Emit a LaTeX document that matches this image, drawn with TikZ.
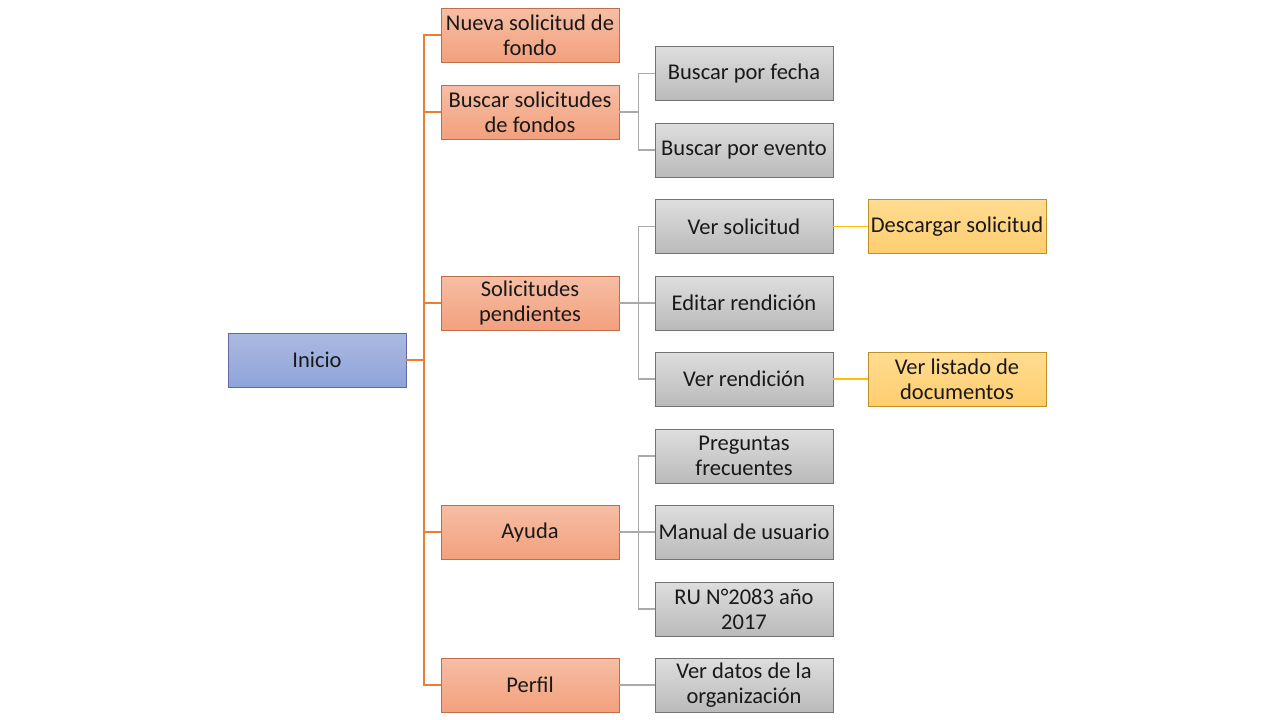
\documentclass[tikz,border=0pt]{standalone}
\usepackage{fontspec}
\setmainfont{Carlito}
\definecolor{oLine}{RGB}{237,125,49}
\definecolor{yLine}{RGB}{255,192,0}
\definecolor{gLine}{RGB}{170,170,170}
\begin{document}
\begin{tikzpicture}[x=1pt,y=-1pt,
  box/.style={minimum width=178pt,minimum height=54pt,inner sep=1pt,align=center,
    font=\fontsize{22.5}{25}\selectfont,line width=0.8pt,text=black!90},
  inibox/.style={box,draw=black!60!blue!60,top color={rgb,255:red,171;green,185;blue,225},bottom color={rgb,255:red,142;green,164;blue,218}},
  orabox/.style={box,draw={rgb,255:red,190;green,110;blue,75},top color={rgb,255:red,246;green,190;blue,165},bottom color={rgb,255:red,243;green,160;blue,125}},
  grybox/.style={box,draw=black!55,top color=black!13,bottom color=black!27},
  yelbox/.style={box,draw={rgb,255:red,190;green,145;blue,40},top color={rgb,255:red,255;green,220;blue,145},bottom color={rgb,255:red,255;green,205;blue,110}},
  oline/.style={draw=oLine,line width=1.1pt},
  gline/.style={draw=gLine,line width=1.1pt},
  yline/.style={draw=yLine,line width=1.1pt}]
\useasboundingbox (0,0) rectangle (1280,720);
\fill[white] (0,0) rectangle (1280,720);
% nodes
\node[inibox] (ini) at (317,360) {Inicio};
\node[orabox] (nueva) at (530,35) {Nueva solicitud de\\fondo};
\node[orabox] (buscar) at (530,112) {Buscar solicitudes\\de fondos};
\node[orabox] (pend) at (530,303) {Solicitudes\\pendientes};
\node[orabox] (ayuda) at (530,532) {Ayuda};
\node[orabox] (perfil) at (530,685) {Perfil};
\node[grybox] (fecha) at (744,73.5) {Buscar por fecha};
\node[grybox] (evento) at (744,150) {Buscar por evento};
\node[grybox] (versol) at (744,226.5) {Ver solicitud};
\node[grybox] (editar) at (744,303) {Editar rendición};
\node[grybox] (verren) at (744,379) {Ver rendición};
\node[grybox] (preg) at (744,456) {Preguntas\\frecuentes};
\node[grybox] (manual) at (744,532) {Manual de usuario};
\node[grybox] (ru) at (744,609) {RU N°2083 año\\2017};
\node[grybox] (datos) at (744,685) {Ver datos de la\\organización};
\node[yelbox] (desc) at (957,226.5) {Descargar solicitud};
\node[yelbox] (listado) at (957,379) {Ver listado de\\documentos};
% coordinates
\coordinate (t0) at (424,360);
% orange connectors
\foreach \n in {nueva,buscar,pend,ayuda,perfil}
  \draw[oline] (ini.east) -- (t0) |- (\n.west);
% gray connectors
\foreach \p/\c in {buscar/fecha,buscar/evento,pend/versol,pend/editar,pend/verren,ayuda/preg,ayuda/manual,ayuda/ru}
  \draw[gline] (\p.east) -- ([xshift=19pt]\p.east) |- (\c.west);
\draw[gline] (perfil.east) -- (datos.west);
% yellow connectors
\draw[yline] (versol.east) -- (desc.west);
\draw[yline] (verren.east) -- (listado.west);
\end{tikzpicture}
\end{document}
